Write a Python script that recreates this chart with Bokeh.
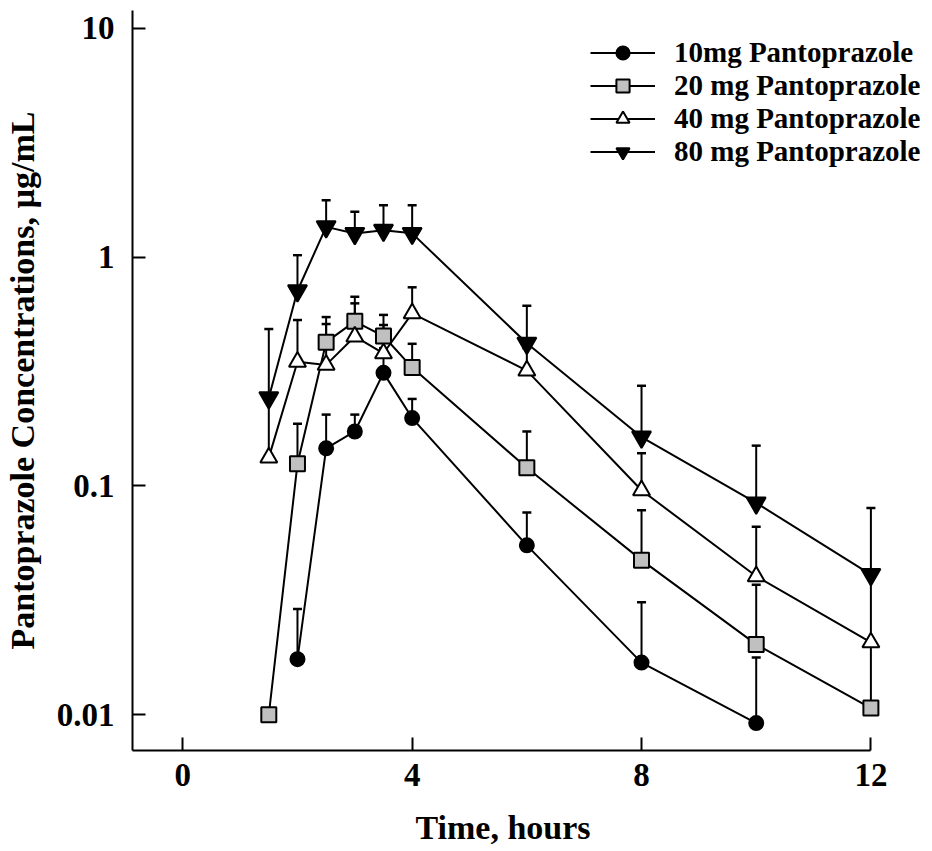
from bokeh.plotting import figure
from bokeh.models import (Range1d, FixedTicker, ColumnDataSource, Whisker, TeeHead,
                          Legend, LegendItem, Title)
from bokeh.embed import file_html
from bokeh.resources import INLINE

# ---------------- data ----------------
TIME = [1.5, 2, 2.5, 3, 3.5, 4, 6, 8, 10, 12]

NAMES = ["10mg Pantoprazole", "20 mg Pantoprazole",
         "40 mg Pantoprazole", "80 mg Pantoprazole"]

MEAN_10 = [None, 0.0175, 0.146, 0.173, 0.312, 0.198, 0.055, 0.0169, 0.0092, None]
UPPER_10 = [None, 0.029, 0.205, 0.205, 0.40, 0.240, 0.0765, 0.031, 0.0178, None]

MEAN_20 = [0.010, 0.125, 0.425, 0.524, 0.452, 0.329, 0.120, 0.0474, 0.0203, 0.0107]
UPPER_20 = [None, 0.187, 0.547, 0.671, 0.559, 0.418, 0.173, 0.0783, 0.037, 0.020]

MEAN_40 = [0.133, 0.349, 0.338, 0.450, 0.380, 0.568, 0.319, 0.0957, 0.0403, 0.0207]
UPPER_40 = [0.240, 0.531, 0.510, 0.628, 0.505, 0.738, 0.400, 0.139, 0.0663, 0.040]

MEAN_80 = [0.243, 0.713, 1.356, 1.268, 1.311, 1.270, 0.420, 0.1636, 0.0843, 0.041]
UPPER_80 = [0.485, 1.020, 1.773, 1.577, 1.686, 1.686, 0.613, 0.274, 0.150, 0.080]

X_TICKS = [0, 4, 8, 12]
X_TICK_LABELS = ["0", "4", "8", "12"]
Y_TICKS = [0.01, 0.1, 1, 10]
Y_TICK_LABELS = ["0.01", "0.1", "1", "10"]

X_LABEL = "Time, hours"
Y_LABEL = "Pantoprazole Concentrations, \u00b5g/mL"

# ---------------- figure ----------------
FONT = "Liberation Serif"
X_START, X_END = -0.877, 12.9

p = figure(frame_width=790, frame_height=740,
           x_range=Range1d(X_START, X_END), y_range=Range1d(0.00698, 11.96),
           y_axis_type="log", output_backend="svg", toolbar_location=None,
           min_border_left=130, min_border_top=10, min_border_right=5,
           min_border_bottom=100, outline_line_color=None,
           background_fill_color="white", border_fill_color="white")
p.grid.visible = False

for ax in (p.xaxis[0], p.yaxis[0]):
    ax.axis_line_width = 2
    ax.axis_line_color = "black"
    ax.major_tick_line_width = 2
    ax.major_tick_line_color = "black"
    ax.major_tick_in = 13
    ax.major_tick_out = 0
    ax.minor_tick_line_color = None
    ax.major_label_text_font = FONT
    ax.major_label_text_font_style = "bold"
    ax.major_label_text_font_size = "33px"
    ax.major_label_text_color = "black"
    ax.axis_label_text_font = FONT
    ax.axis_label_text_font_style = "bold"
    ax.axis_label_text_font_size = "34px"
    ax.axis_label_text_color = "black"

p.xaxis.ticker = FixedTicker(ticks=X_TICKS)
p.xaxis.major_label_overrides = dict(zip(X_TICKS, X_TICK_LABELS))
p.xaxis.major_label_standoff = 13
p.xaxis.bounds = (X_START, X_TICKS[-1])

p.yaxis.ticker = FixedTicker(ticks=Y_TICKS)
p.yaxis.major_label_overrides = dict(zip(Y_TICKS, Y_TICK_LABELS))
p.yaxis.major_label_standoff = 18
p.yaxis.axis_label = Y_LABEL
p.yaxis.axis_label_standoff = 13

# x-axis title, centred under the drawn axis (0..12) rather than the wider frame
xtitle = Title(text=X_LABEL, align="left", offset=283, standoff=0,
               vertical_align="top",
               padding=dict(left=0, top=20, right=0, bottom=0),
               text_font=FONT, text_font_style="bold", text_font_size="34px",
               text_color="black")
p.add_layout(xtitle, "below")

series = [
    (MEAN_10, UPPER_10, dict(marker="circle", size=14, fill_color="black")),
    (MEAN_20, UPPER_20, dict(marker="square", size=15, fill_color="#c0c0c0")),
    (MEAN_40, UPPER_40, dict(marker="triangle", size=17, fill_color="white")),
    (MEAN_80, UPPER_80, dict(marker="inverted_triangle", size=19, fill_color="black")),
]

items = []
for name, (mean, upper, style) in zip(NAMES, series):
    t = [x for x, m in zip(TIME, mean) if m is not None]
    m = [v for v in mean if v is not None]
    src = ColumnDataSource(dict(t=t, m=m))
    et = [x for x, v, u in zip(TIME, mean, upper) if u is not None and v is not None]
    em = [v for v, u in zip(mean, upper) if u is not None and v is not None]
    eu = [u for v, u in zip(mean, upper) if u is not None and v is not None]
    esrc = ColumnDataSource(dict(t=et, lo=em, hi=eu))
    w = Whisker(base="t", lower="lo", upper="hi", source=esrc, dimension="height",
                line_color="black", line_width=2,
                upper_head=TeeHead(size=9, line_width=2.5, line_color="black"),
                lower_head=None)
    p.add_layout(w)
    lr = p.line("t", "m", source=src, line_color="black", line_width=2)
    sr = p.scatter("t", "m", source=src, line_color="black", line_width=2, **style)
    items.append(LegendItem(label=name, renderers=[lr, sr]))

legend = Legend(items=items, location=(458, 582), orientation="vertical",
                glyph_width=65, glyph_height=33, label_height=33,
                label_standoff=19, padding=0, spacing=0, margin=0,
                border_line_color=None, background_fill_alpha=0,
                label_text_font=FONT, label_text_font_style="bold",
                label_text_font_size="29px", label_text_color="black")
p.add_layout(legend)

open("out.html", "w").write(file_html(p, INLINE))
